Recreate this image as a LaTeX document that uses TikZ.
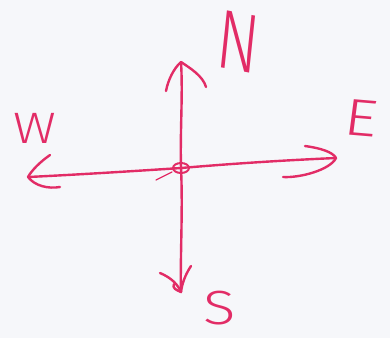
\documentclass[tikz,border=0pt]{standalone}
\usepackage{fontspec}
\newfontfamily\thinf{Fira Sans Light}
\definecolor{ink}{RGB}{226,44,102}
\definecolor{paper}{RGB}{246,247,250}
\begin{document}
\begin{tikzpicture}[x=1pt,y=-1pt,
  pen/.style={draw=ink,line width=2.4pt,line cap=round,line join=round},
  lbl/.style={text=ink,inner sep=0pt,font=\thinf}]
\fill[paper] (0,0) rectangle (390,338);
\useasboundingbox (0,0) rectangle (390,338);
\begin{scope}
\clip (0,0) rectangle (390,338);
% centre and tips
\coordinate (c) at (181,168);
\coordinate (n) at (181,62);
\coordinate (s) at (181,292);
\coordinate (w) at (28,177);
\coordinate (e) at (336,158);
% shafts
\draw[pen] (c) .. controls (180,130) and (183,95) .. (n);
\draw[pen] (c) .. controls (183,210) and (180,260) .. (s);
\draw[pen] (c) .. controls (120,172) and (70,175) .. (w);
\draw[pen] (c) .. controls (240,163) and (290,160) .. (e);
% centre loop
\draw[pen,line width=2pt] (c) ellipse [x radius=8pt,y radius=5pt];
\draw[ink,line width=1.2pt,line cap=round] (172,172) -- (156,180);
% north head
\draw[pen] (166,91) .. controls (168,80) and (174,68) .. (n) .. controls (190,68) and (203,76) .. (206,87);
% west head
\draw[pen] (50,155) .. controls (40,162) and (32,170) .. (w) .. controls (35,186) and (48,189) .. (60,187);
% east head
\draw[pen] (305,146) .. controls (320,148) and (333,152) .. (e) .. controls (330,170) and (300,178) .. (283,177);
% south head
\draw[pen] (160,273) .. controls (172,278) and (178,285) .. (s);
\draw[pen] (191,266) .. controls (185,275) and (182,284) .. (s) .. controls (176,290) and (172,288) .. (174,284);
% letters
\node[lbl,font=\thinf\fontsize{84}{84}\selectfont,xscale=0.75,rotate=-8] (N) at (238,42) {N};
\node[lbl,font=\thinf\fontsize{44}{44}\selectfont,xscale=1.2] (W) at (35,128) {W};
\node[lbl,font=\thinf\fontsize{52}{52}\selectfont,xscale=1.25,rotate=-6] (E) at (361,118) {E};
\node[lbl,font=\thinf\fontsize{48}{48}\selectfont,xscale=1.25] (S) at (220,308) {S};
\end{scope}
\end{tikzpicture}
\end{document}
